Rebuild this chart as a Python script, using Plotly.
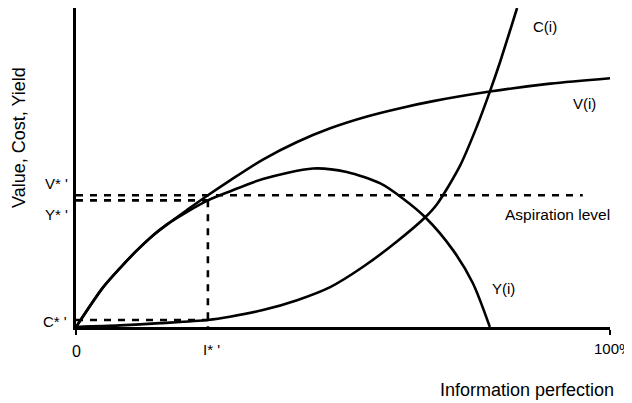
import plotly.graph_objects as go

# curves (x = information perfection %, y = relative level)
v_x = [0, 5.1, 8.2, 11.4, 14.4, 17.0, 20.8, 24.7, 28.8, 35.0, 41.4, 47.6, 54.5, 60.7, 66.9, 77.5, 88.8, 100]
v_y = [0, 12.5, 18.4, 24.0, 28.7, 32.1, 36.7, 41.3, 45.9, 52.5, 58.0, 62.3, 66.0, 68.6, 70.8, 73.8, 76.3, 78.0]

y_x = [0, 5.1, 8.2, 11.4, 14.4, 17.0, 20.8, 24.7, 28.8, 35.0, 44.4, 50.7, 57.0, 61.2, 65.4, 70.6, 74.3, 77.5]
y_y = [0, 12.5, 18.4, 24.0, 28.7, 32.1, 36.1, 39.7, 42.5, 46.4, 49.7, 48.6, 45.0, 40.3, 34.4, 24.1, 13.8, 0]

c_x = [0, 8.2, 15.7, 24.7, 28.8, 35.0, 41.4, 47.6, 53.7, 60.1, 65.4, 67.6, 71.9, 75.1, 77.5, 79.4, 82.6]
c_y = [0, 0.5, 1.2, 2.2, 3.2, 5.3, 8.4, 12.5, 18.8, 26.8, 34.4, 38.5, 50.5, 63.0, 73.8, 83.0, 100]

i_star = 24.7
v_star = 41.3
y_star = 39.7
c_star = 2.2
aspiration_end = 94.9

# the page puts the figure 8px in from the window corner
OFF = 8
W, H = 632 - OFF, 403 - OFF
L, R, T, B = 76 - OFF, 22, 0, 76
FONT = "Liberation Sans, Arial, sans-serif"


def px(x, y):
    # window pixel position -> paper coords
    x, y = x - OFF, y - OFF
    return (x - L) / (W - L - R), (H - B - y) / (H - T - B)


fig = go.Figure()

curve = dict(color="black", width=2.6, shape="spline", smoothing=0.8)
fig.add_trace(go.Scatter(x=v_x, y=v_y, mode="lines", line=curve))
fig.add_trace(go.Scatter(x=y_x, y=y_y, mode="lines", line=curve))
fig.add_trace(go.Scatter(x=c_x, y=c_y, mode="lines", line=curve))

dash = dict(color="black", width=2.6, dash="7px,7px")
fig.add_trace(go.Scatter(x=[0, aspiration_end], y=[v_star, v_star], mode="lines", line=dash))
fig.add_trace(go.Scatter(x=[0, i_star], y=[y_star, y_star], mode="lines", line=dash))
fig.add_trace(go.Scatter(x=[i_star, i_star], y=[y_star, 0], mode="lines", line=dash))
fig.add_trace(go.Scatter(x=[0, i_star], y=[c_star, c_star], mode="lines", line=dash))

labels = [
    ("V* '", 56, 183, 15, 0),
    ("Y* '", 56, 215, 15, 0),
    ("C* '", 55, 321, 15, 0),
    ("0", 76, 351, 16, 0),
    ("I* '", 211, 349, 15, 0),
    ("C(i)", 545, 27, 15, 0),
    ("V(i)", 584, 103, 15, 0),
    ("Aspiration level", 557, 214, 15.5, 0),
    ("Y(i)", 503, 288, 15, 0),
    ("Information perfection", 527, 390, 18, 0),
    ("Value, Cost, Yield", 19, 138, 18, -90),
]
for text, x, y, size, ang in labels:
    ax, ay = px(x, y)
    fig.add_annotation(x=ax, y=ay, xref="paper", yref="paper", text=text, showarrow=False,
                       xanchor="center", yanchor="middle", textangle=ang,
                       font=dict(size=size, color="black", family=FONT))

ax, ay = px(592, 348)
fig.add_annotation(x=ax, y=ay, xref="paper", yref="paper", text="100%", showarrow=False,
                   xanchor="left", yanchor="middle",
                   font=dict(size=15, color="black", family=FONT))

fig.update_layout(
    width=W, height=H,
    margin=dict(l=L, r=R, t=T, b=B),
    plot_bgcolor="white", paper_bgcolor="white",
    showlegend=False,
    font=dict(family=FONT, color="black"),
)
fig.update_xaxes(range=[0, 100], showgrid=False, zeroline=False, showline=True,
                 linecolor="black", linewidth=3, ticks="outside", tickvals=[0, 100],
                 ticklen=5, tickwidth=2, tickcolor="black", showticklabels=False)
fig.update_yaxes(range=[0, 100], showgrid=False, zeroline=False, showline=True,
                 linecolor="black", linewidth=3, showticklabels=False, ticks="")

fig.write_html("out.html")
